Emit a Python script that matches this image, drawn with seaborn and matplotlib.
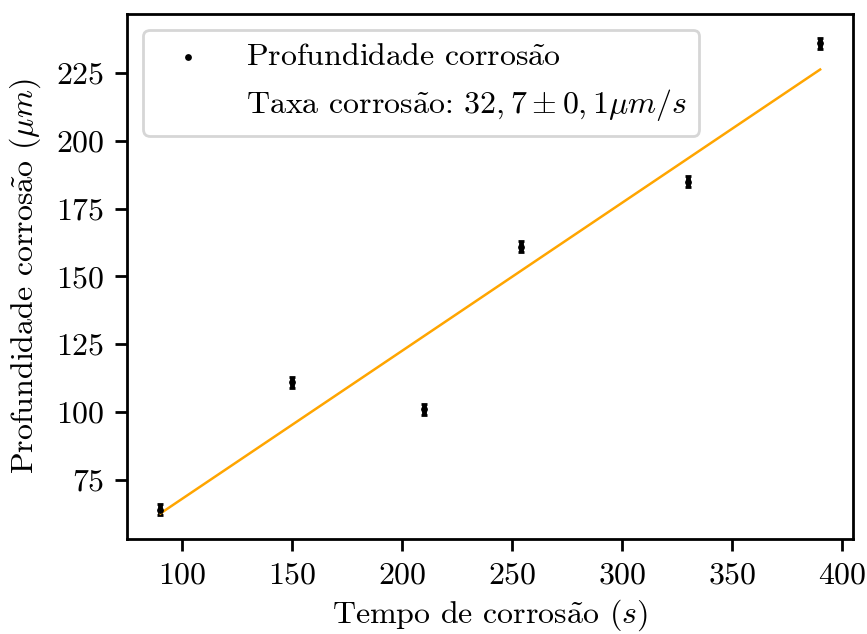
import numpy as np
import matplotlib
matplotlib.use("Agg")
import matplotlib.pyplot as plt
import seaborn as sns

# Dados medidos
tempo = [90, 150, 210, 254, 330, 390]          # s
profundidade = [64, 111, 101, 161, 185, 236]   # um
erro = [2, 2, 2, 2, 2, 2]

plt.rcParams["font.family"] = ["cmr10", "DejaVu Serif"]
plt.rcParams["mathtext.fontset"] = "cm"
plt.rcParams["axes.formatter.use_mathtext"] = True
plt.rcParams["font.size"] = 23
plt.rcParams["axes.linewidth"] = 2
for eixo in ("xtick", "ytick"):
    plt.rcParams[eixo + ".major.size"] = 8.5
    plt.rcParams[eixo + ".major.width"] = 2
    plt.rcParams[eixo + ".major.pad"] = 8

# cmr10 nao tem o "ã", entao usamos o acento do mathtext
atil = r"$\tilde{\mathrm{a}}$"

# Ajuste linear
coef = np.polyfit(tempo, profundidade, 1)
ajuste = np.polyval(coef, tempo)

fig, ax = plt.subplots(figsize=(8.67, 6.34), dpi=100)
fig.subplots_adjust(left=0.147, right=0.984, top=0.978, bottom=0.15)

ax.errorbar(tempo, profundidade, yerr=erro, fmt="none", ecolor="black",
            elinewidth=3.5, capsize=2, capthick=2, zorder=2)
sns.scatterplot(x=tempo, y=profundidade, color="black", s=24, marker="o",
                linewidth=0, label="Profundidade corros" + atil + "o",
                zorder=3, ax=ax)
sns.lineplot(x=tempo, y=ajuste, color="orange", linewidth=1.8, ax=ax)
ax.plot([], [], " ", label="Taxa corros" + atil + r"o: $32,7 \pm 0,1 \mu m/s$")

ax.set_xlabel("Tempo de corros" + atil + r"o $(s)$", labelpad=6)
ax.set_ylabel("Profundidade corros" + atil + r"o $(\mu m)$", labelpad=9)
ax.set_xticks([100, 150, 200, 250, 300, 350, 400])
ax.set_yticks([75, 100, 125, 150, 175, 200, 225])
leg = ax.legend(loc="upper left", fontsize=23, handletextpad=0.8)
leg.get_frame().set_linewidth(2)

plt.savefig("out.png", dpi=100)
